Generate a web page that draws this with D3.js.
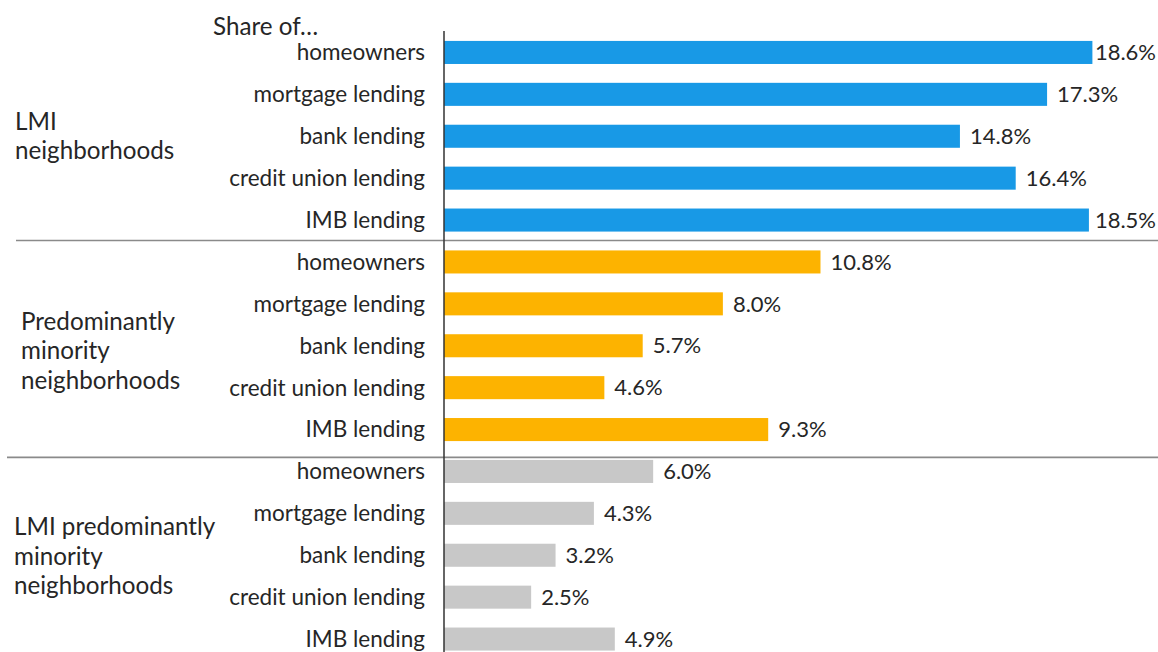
<!DOCTYPE html>
<html>
<head>
<meta charset="utf-8">
<script src="https://cdn.jsdelivr.net/npm/d3@7"></script>
<style>
  html, body { margin: 0; padding: 0; background: #fff; }
  svg text { font-family: Lato, "Open Sans", sans-serif; fill: #262626; }
</style>
</head>
<body>
<svg id="chart" width="1158" height="652"></svg>
<script>
// Neighborhood groups and the measures shown for each
const groups = [
  ["LMI", "neighborhoods"],
  ["Predominantly", "minority", "neighborhoods"],
  ["LMI predominantly", "minority", "neighborhoods"]
];
const categories = ["homeowners", "mortgage lending", "bank lending", "credit union lending", "IMB lending"];
const lmiValues = [18.6, 17.3, 14.8, 16.4, 18.5];
const minorityValues = [10.8, 8.0, 5.7, 4.6, 9.3];
const lmiMinorityValues = [6.0, 4.3, 3.2, 2.5, 4.9];
const groupColors = ["#1899e6", "#fdb300", "#c8c8c8"];

const seriesValues = [lmiValues, minorityValues, lmiMinorityValues];

// Flatten into one row per bar
const rows = [];
seriesValues.forEach((vals, g) => {
  vals.forEach((v, i) => rows.push({ group: g, category: categories[i], value: v, idx: rows.length }));
});

const W = 1158, H = 652;
const svg = d3.select("#chart");

const axisX = 444;
const x = d3.scaleLinear().domain([0, 20]).range([axisX, axisX + 20 * 34.86]);
const step = 41.9;
const y = d3.scaleBand()
  .domain(d3.range(rows.length))
  .range([31.5, 31.5 + step * rows.length])
  .paddingInner(0.45)
  .paddingOuter(0.225);

const catFont = 22.5, valFont = 22, groupFont = 24.2;

// Heading over the category labels
svg.append("text")
  .attr("x", 213).attr("y", 35)
  .attr("font-size", groupFont)
  .text("Share of\u2026");

// Bars
svg.append("g").selectAll("rect")
  .data(rows).join("rect")
  .attr("x", x(0))
  .attr("y", d => y(d.idx))
  .attr("width", d => x(d.value) - x(0))
  .attr("height", y.bandwidth())
  .attr("fill", d => groupColors[d.group]);

// Category labels (left of the axis)
svg.append("g").selectAll("text")
  .data(rows).join("text")
  .attr("x", axisX - 19)
  .attr("y", d => y(d.idx) + y.bandwidth() / 2)
  .attr("dy", "0.35em")
  .attr("text-anchor", "end")
  .attr("font-size", catFont)
  .text(d => d.category);

// Value labels, pulled back inside the frame when they would overflow
const rightLimit = W - 2;
svg.append("g").selectAll("text")
  .data(rows).join("text")
  .attr("y", d => y(d.idx) + y.bandwidth() / 2)
  .attr("dy", "0.35em")
  .attr("font-size", valFont)
  .text(d => d.value.toFixed(1) + "%")
  .each(function (d) {
    const len = this.getComputedTextLength();
    let tx = x(d.value) + 10;
    if (tx + len > rightLimit) tx = Math.max(x(d.value) + 2, rightLimit - len);
    d3.select(this).attr("x", tx);
  });

// Group separators
const sepStyle = [{ x0: 16, off: 10 }, { x0: 7, off: 2.6 }];
sepStyle.forEach((s, k) => {
  const firstIdx = (k + 1) * categories.length;
  const yy = y(firstIdx) - s.off;
  svg.append("line")
    .attr("x1", s.x0).attr("x2", W)
    .attr("y1", yy).attr("y2", yy)
    .attr("stroke", "#8a8a8a")
    .attr("stroke-width", 1.6);
});

// Vertical axis line
svg.append("line")
  .attr("x1", axisX).attr("x2", axisX)
  .attr("y1", 31).attr("y2", H)
  .attr("stroke", "#333")
  .attr("stroke-width", 1.5);

// Group labels, centred on their block of bars
const groupLabelX = [15, 21, 14];
const groupLabelShift = [0, 5, 1];
const lineH = 29.5;
groups.forEach((lines, g) => {
  const first = g * categories.length;
  const last = first + categories.length - 1;
  const cy = (y(first) + y(last) + y.bandwidth()) / 2 + groupLabelShift[g];
  const t = svg.append("text")
    .attr("x", groupLabelX[g])
    .attr("y", cy - (lines.length - 1) * lineH / 2)
    .attr("font-size", groupFont);
  lines.forEach((ln, i) => {
    t.append("tspan")
      .attr("x", groupLabelX[g])
      .attr("dy", i === 0 ? "0.35em" : lineH)
      .text(ln);
  });
});
</script>
</body>
</html>
